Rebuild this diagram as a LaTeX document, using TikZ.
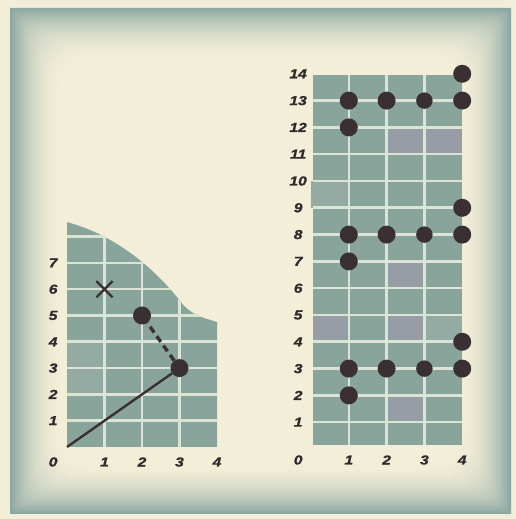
\documentclass[tikz,border=0pt]{standalone}
\usepackage{fontspec}
\usetikzlibrary{shapes.misc}
\newfontfamily\lblfont{Liberation Sans}[FakeStretch=1.2, FakeBold=1.2, UprightFont={* Bold Italic}]
\definecolor{cream}{HTML}{F3EED7}
\definecolor{edgeteal}{HTML}{86A3A0}
\definecolor{cell}{HTML}{89A49B}
\definecolor{cellb}{HTML}{979DA4}
\definecolor{cellc}{HTML}{93ABA2}
\definecolor{gridc}{HTML}{DCE4D6}
\definecolor{ink}{HTML}{3A3034}
\definecolor{txt}{HTML}{2F2A2E}
\begin{document}
\begin{tikzpicture}[x=1pt,y=1pt,
  lbl/.style={font=\lblfont\fontsize{13}{15}\selectfont, text=txt, inner sep=0pt},
  dot/.style={circle, fill=ink, inner sep=0pt, minimum size=18pt},
  xmark/.style={cross out, draw=ink, line width=2.3pt, inner sep=0pt, minimum size=14pt},
  gridline/.style={draw=gridc, line width=2.6pt},
  solidline/.style={draw=ink, line width=2.4pt},
  dashline/.style={draw=ink, line width=3.4pt, dash pattern=on 7pt off 4.5pt}]
\useasboundingbox (0,0) rectangle (516,519);
\fill[cream] (0,0) rectangle (516,519);
% vignette frame
\foreach \i in {0,...,34} {
  \pgfmathsetmacro\p{95*(1-\i/35)^2}
  \fill[edgeteal!\p!cream, rounded corners=\i*1.2+0.5] (10+\i*1.5, 5+\i*1.5) rectangle (511-\i*1.5, 511-\i*1.5);
}
% ---------- left panel ----------
\begin{scope}[shift={(67,72)}, x=37.5pt, y=26.3pt]
  \def\leftshape{(0,0) -- (0,8.55) .. controls (1.2,8.1) and (2.3,6.9) .. (3.1,5.4) .. controls (3.4,4.95) and (3.7,4.9) .. (4,4.75) -- (4,0) -- cycle}
  \fill[cell] \leftshape;
  \begin{scope}
    \clip \leftshape;
    \fill[cellc] (0,3.05) rectangle (0.95,3.95);
    \fill[cellc] (0,2.05) rectangle (0.95,2.95);
    \foreach \x in {1,2,3} \draw[gridline] (\x,0) -- (\x,9);
    \foreach \y in {1,...,8} \draw[gridline] (0,\y) -- (4,\y);
  \end{scope}
  \foreach \y in {1,...,7} \node[lbl] (ly\y) at (-0.37,\y) {\y};
  \foreach \x in {1,...,4} \node[lbl] (lx\x) at (\x,-0.57) {\x};
  \node[lbl] (l0) at (-0.37,-0.57) {0};
  \coordinate (o) at (0,0);
  \node[dot] (a) at (3,3) {};
  \node[dot] (b) at (2,5) {};
  \node[xmark] (xm) at (1,6) {};
  \draw[solidline] (o) -- (a);
  \draw[dashline] (a) -- (b);
\end{scope}
% ---------- right panel ----------
\begin{scope}[shift={(311,70)}, x=37.8pt, y=26.8pt]
  \fill[cell] (0.05,0.15) rectangle (4,13.95);
  \fill[cellb] (2,11) rectangle (4,12);
  \fill[cellb] (2,6) rectangle (3,7);
  \fill[cellb] (0.05,4) rectangle (1,5);
  \fill[cellb] (2,4) rectangle (3,5);
  \fill[cellb] (2,1) rectangle (3,2);
  \fill[cellc] (0,9) rectangle (1,10);
  \fill[cellc] (3,4) rectangle (4,5);
  \foreach \x in {1,2,3} \draw[gridline] (\x,0.15) -- (\x,13.95);
  \foreach \y in {1,...,13} \draw[gridline] (0.05,\y) -- (4,\y);
  \foreach \y in {1,...,14} \node[lbl] (ry\y) at (-0.34,\y) {\y};
  \foreach \x in {1,...,4} \node[lbl] (rx\x) at (\x,-0.41) {\x};
  \node[lbl] (r0) at (-0.34,-0.41) {0};
  \foreach \b in {0,5,10} {
    \node[dot] (d1a\b) at (1,2+\b) {};
    \node[dot] (d1b\b) at (1,3+\b) {};
    \node[dot] (d2\b) at (2,3+\b) {};
    \node[dot, minimum size=16.5pt] (d3\b) at (3,3+\b) {};
    \node[dot] (d4a\b) at (4,3+\b) {};
    \node[dot] (d4b\b) at (4,4+\b) {};
  }
\end{scope}
\end{tikzpicture}
\end{document}
